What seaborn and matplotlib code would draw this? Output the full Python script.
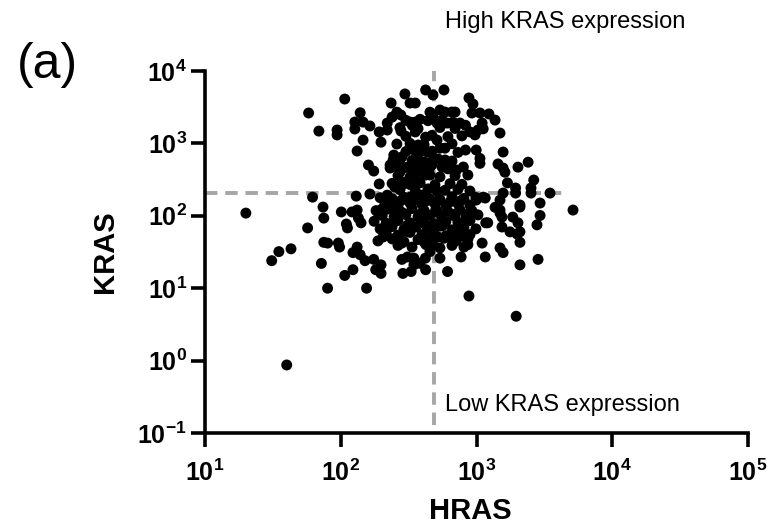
import matplotlib
matplotlib.use("Agg")
import matplotlib.pyplot as plt
import seaborn as sns
import pandas as pd

# ---------------- data ----------------
hras_sparse = [20, 31, 35, 43, 40, 58, 107, 69, 94, 94, 62, 74, 75, 57, 101, 121, 132, 135, 141, 110,
               112, 130, 164, 75, 80, 96, 98, 72, 132, 123, 139, 151, 175, 123, 107, 181, 198, 198, 80, 155,
               282, 287, 192, 250, 282, 231, 254, 139, 259, 277, 454, 297, 422, 235, 324, 354, 239, 127, 146, 164,
               127, 220, 220, 324, 354, 336, 192, 278, 354, 422, 146, 198, 259, 324, 372, 132, 246, 282, 346, 384,
               434, 243, 372, 413, 160, 175, 231, 273, 346, 324, 454, 469]
kras_sparse = [109, 24, 32, 35, 0.87, 2630, 4100, 1480, 1530, 1310, 181, 132, 93, 68, 113, 113, 120, 93, 80, 77,
               68, 187, 200, 43, 42, 42, 37, 22, 37, 31, 29, 24, 25, 18, 15, 18, 21, 16, 10, 10,
               25, 16, 275, 250, 266, 457, 503, 2650, 2700, 2470, 2700, 4820, 5470, 3610, 3610, 3610, 2310, 1970, 1970, 1740,
               1580, 1910, 1530, 1970, 1970, 1780, 1440, 1480, 1440, 1220, 1110, 1040, 980, 890, 950, 785, 690, 650, 810, 760,
               760, 590, 590, 553, 503, 415, 503, 402, 443, 343, 366, 503]

hras_right_up = [576, 478, 880, 942, 538, 586, 658, 695, 925, 1061, 1235, 1370, 478, 512, 558, 610, 670, 755, 829, 1100,
                 1120, 895, 975, 1025, 1490, 512, 538, 586, 830, 995, 1060, 1060, 1570, 478, 586, 558, 1440, 1570, 1620, 2020,
                 2400, 713, 800, 864, 2640, 2520, 3480, 5140]
kras_right_up = [5470, 4670, 4240, 3500, 2890, 2710, 2710, 2710, 2630, 2630, 2550, 2100, 2310, 1910, 2100, 1910, 1970, 1910, 1780, 1910,
                 1590, 1440, 1310, 1530, 1390, 1110, 860, 860, 810, 810, 620, 530, 760, 590, 590, 470, 520, 457, 400, 470,
                 550, 429, 472, 366, 312, 242, 206, 120]

hras_right_low = [1690, 1940, 1570, 1490, 2940, 2090, 1120, 1370, 1490, 1850, 2020, 2940, 2790, 1170, 1540, 1765, 1990, 2090, 1100, 1160,
                  1490, 1570, 770, 2090, 2840, 612, 880, 1960, 422, 330, 346, 384, 346, 454, 478, 413, 420, 538, 310, 282,
                  864, 1490, 1540, 1210, 1160, 995, 2090, 2090, 1940, 2520,
                  220, 273, 297, 324, 282, 324, 204, 239, 254, 400, 454, 512]
kras_right_low = [285, 242, 206, 165, 150, 132, 181, 131, 109, 96, 80, 101, 75, 80, 70, 60, 56, 43, 42, 27,
                  36, 31, 27, 21, 25, 17, 7.8, 4.1, 18, 17, 26, 22, 21, 32, 40, 43, 26, 26, 27, 42,
                  40, 120, 96, 80, 176, 165, 141, 60, 206, 206,
                  193, 266, 290, 330, 165, 181, 127, 141, 113, 193, 170, 220]

hras_core = [195, 239, 292, 359, 439, 538, 660, 808, 990,
             216, 264, 324, 397, 486, 595, 730, 895,
             182, 223, 273, 335, 411, 502, 616, 755, 926,
             202, 247, 302, 371, 454, 556, 683, 836, 1025,
             176, 216, 264, 324, 397, 486, 595, 730, 895,
             195, 239, 292, 359, 439, 538, 660, 808, 990,
             216, 264, 324, 397, 486, 595, 730, 895,
             188, 239, 292, 371, 454, 576, 706, 865,
             264, 335, 424, 538, 660, 808,
             210, 270, 345, 420, 520, 640, 770,
             190, 285, 390, 520, 700, 880,
             230, 310, 420, 560, 760,
             205, 280, 410, 520, 640, 790]
kras_core = [178, 172, 181, 170, 178, 168, 183, 174, 179,
             148, 140, 150, 143, 152, 139, 147, 141,
             118, 124, 116, 126, 119, 123, 115, 122, 117,
             101, 96, 104, 97, 102, 94, 100, 95, 103,
             84, 79, 86, 80, 85, 78, 83, 81, 86,
             66, 71, 65, 70, 67, 72, 64, 69, 66,
             58, 54, 59, 55, 57, 53, 58, 55,
             45, 48, 44, 47, 46, 49, 45, 48,
             39, 37, 40, 36, 39, 37,
             160, 157, 163, 158, 161, 156, 162,
             108, 110, 107, 111, 106, 109,
             75, 74, 76, 73, 75,
             51, 50, 52, 51, 50, 52]

hras_upper = [302, 384, 439, 273, 371, 538, 695, 302, 470, 616, 781, 324, 411, 660,
              302, 371, 470, 730, 273, 335, 520, 660, 302, 384, 454, 616,
              264, 354, 420, 538, 695, 239, 324, 384, 494, 638, 781,
              273, 354, 439, 586, 730, 895]
kras_upper = [2080, 2150, 2060, 1650, 1600, 1660, 1610, 1250, 1290, 1240, 1270, 1000, 960, 990,
              770, 740, 780, 750, 600, 580, 610, 570, 465, 450, 470, 445,
              360, 350, 365, 345, 358, 280, 270, 285, 268, 278, 272,
              230, 222, 235, 225, 232, 220]

hras_cut = 485      # vertical dashed threshold
kras_cut = 205      # horizontal dashed threshold

x_ticks = [1e1, 1e2, 1e3, 1e4, 1e5]
x_exps = ["1", "2", "3", "4", "5"]
y_ticks = [1e-1, 1e0, 1e1, 1e2, 1e3, 1e4]
y_exps = ["-1", "0", "1", "2", "3", "4"]

df = pd.DataFrame({
    "HRAS": hras_sparse + hras_right_up + hras_right_low + hras_core + hras_upper,
    "KRAS": kras_sparse + kras_right_up + kras_right_low + kras_core + kras_upper,
})

# ---------------- style ----------------
sns.set_style("ticks")
plt.rcParams["font.family"] = ["Liberation Sans", "DejaVu Sans"]
plt.rcParams["mathtext.fontset"] = "custom"
plt.rcParams["mathtext.rm"] = "Liberation Sans:bold"
plt.rcParams["mathtext.bf"] = "Liberation Sans:bold"
plt.rcParams["mathtext.it"] = "Liberation Sans:bold"
plt.rcParams["mathtext.sf"] = "Liberation Sans:bold"
for key in ["text.color", "axes.labelcolor", "xtick.color", "ytick.color", "axes.edgecolor"]:
    plt.rcParams[key] = "black"

W, H = 769, 525
fig = plt.figure(figsize=(W / 100, H / 100), dpi=100)
ax = fig.add_axes([205 / W, 1 - 433 / H, (748 - 205) / W, (433 - 71) / H])

ax.set_xscale("log")
ax.set_yscale("log")

gray = "#a6a6a6"
ax.plot([10, 4800], [kras_cut, kras_cut], color=gray, lw=2.8, dashes=(3.2, 2.0), zorder=1)
ax.plot([hras_cut, hras_cut], [0.13, 1e4], color=gray, lw=2.8, dashes=(3.2, 2.0), zorder=1)

sns.scatterplot(data=df, x="HRAS", y="KRAS", ax=ax, color="black", s=62,
                edgecolor="none", linewidth=0, zorder=3, legend=False)

ax.set_xlim(1e1, 1e5)
ax.set_ylim(1e-1, 1e4)

for side in ["top", "right"]:
    ax.spines[side].set_visible(False)
for side in ["left", "bottom"]:
    ax.spines[side].set_linewidth(2.6)
    ax.spines[side].set_color("black")

ax.set_xticks(x_ticks)
ax.set_xticklabels([r"$\mathrm{10^{%s}}$" % e for e in x_exps])
ax.set_yticks(y_ticks)
ax.set_yticklabels([r"$\mathrm{10^{%s}}$" % e for e in y_exps])
ax.minorticks_off()
ax.tick_params(axis="both", which="major", length=10, width=2.6, color="black",
               labelcolor="black", labelsize=18, direction="out")
ax.tick_params(axis="x", pad=9)
ax.tick_params(axis="y", pad=3)

ax.set_xlabel("HRAS", fontsize=21, fontweight="bold", color="black")
ax.set_ylabel("KRAS", fontsize=21, fontweight="bold", color="black")
ax.xaxis.set_label_coords((470 - 205) / 543, (433 - 511) / 362)
ax.xaxis.label.set_va("center")
ax.yaxis.set_label_coords((105 - 205) / 543, 0.5)
ax.yaxis.label.set_va("center")

fig.text(445 / W, 1 - 28 / H, "High KRAS expression", fontsize=17, ha="left", va="baseline", color="black")
fig.text(445 / W, 1 - 411 / H, "Low KRAS expression", fontsize=17, ha="left", va="baseline", color="black")
fig.text(47 / W, 1 - 65 / H, "(a)", fontsize=36, ha="center", va="center", color="black")

fig.savefig("out.png", dpi=100)
